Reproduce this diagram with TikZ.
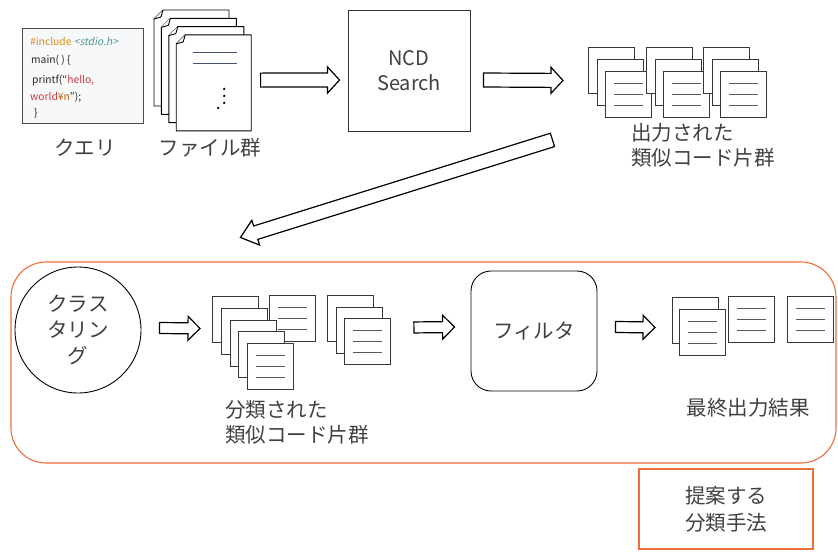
\documentclass[tikz,border=0pt]{standalone}
\usepackage{fontspec}
\setmainfont{Noto Sans CJK JP}
\newfontfamily\codeslant[FakeSlant=0.2]{Noto Sans CJK JP}
\usepackage{xcolor}
\usepackage{tikz}
\usetikzlibrary{calc,positioning}
\definecolor{framecol}{RGB}{240,108,56}
\definecolor{inkcol}{RGB}{64,64,64}
\definecolor{pagecol}{RGB}{55,55,55}
\definecolor{codebg}{RGB}{246,248,250}
\definecolor{kwcol}{RGB}{214,140,30}
\definecolor{hdrcol}{RGB}{80,150,150}
\definecolor{strcol}{RGB}{205,60,60}
\definecolor{esccol}{RGB}{190,100,20}
\definecolor{rulecol}{RGB}{68,84,106}

% hollow block arrow: tail, tip, shaft half width, head half width, head length
\newcommand{\hollowarrow}[5]{%
  \coordinate (ha-s) at (#1);
  \coordinate (ha-e) at (#2);
  \coordinate (ha-n) at ($(ha-e)!#5!(ha-s)$);
  \draw[blockarrow] ($(ha-s)!#3!90:(ha-e)$) -- ($(ha-n)!#3!90:(ha-e)$) -- ($(ha-n)!#4!90:(ha-e)$)
    -- (ha-e) -- ($(ha-n)!#4!-90:(ha-e)$) -- ($(ha-n)!#3!-90:(ha-e)$) -- ($(ha-s)!#3!-90:(ha-e)$) -- cycle;
}
% three text rules on a snippet page
\newcommand{\snipruled}[1]{%
  \foreach \dy in {-11,0,11} {\draw[snipline] ($(#1.west)+(9,\dy)$) -- ($(#1.east)+(-9,\dy)$);}
}

\begin{document}
\begin{tikzpicture}[x=1pt,y=-1pt,
    jp/.style={font=\fontsize{20.5}{25}\selectfont, text=inkcol, inner sep=0pt},
    code/.style={font=\fontsize{10.3}{12}\selectfont, text=black!85, inner sep=0pt, anchor=base west},
    snip/.style={draw=pagecol, fill=white, line width=0.9pt, minimum width=46pt, minimum height=46pt, inner sep=0pt, anchor=north west},
    snipline/.style={draw=black!65, line width=0.9pt},
    paper/.style={draw=black, fill=white, line width=0.9pt, line join=round},
    blockarrow/.style={draw=black, fill=white, line width=1.2pt, line join=miter}]
    \useasboundingbox (0,0) rectangle (838,552);

    % Query (source code)
    \node[draw=black!70, fill=codebg, line width=0.9pt, minimum width=121pt, minimum height=95pt, anchor=north west] (query) at (22,28) {};
    \node[code] (q1) at ($(query.north west)+(8,17)$) {\color{kwcol}\#include \codeslant\color{hdrcol}<stdio.h>};
    \node[code] (q2) at ($(query.north west)+(9,35)$) {main( ) \{};
    \node[code] (q3) at ($(query.north west)+(10,55)$) {printf(“{\color{strcol}hello,}};
    \node[code] (q4) at ($(query.north west)+(8,72)$) {{\color{strcol}world}{\color{esccol}¥n}”);};
    \node[code] (q5) at ($(query.north west)+(12,88)$) {\}};
    \node[jp] (querylab) at (85,148) {クエリ};

    % File set
    \foreach \k in {0,...,3} {
      \pgfmathsetmacro{\pgx}{154+7.4*\k}
      \pgfmathsetmacro{\pgy}{10+8.3*\k}
      \draw[paper] (\pgx,\pgy+9) -- (\pgx+9,\pgy) -- (\pgx+75,\pgy) -- (\pgx+75,\pgy+96) -- (\pgx,\pgy+96) -- cycle;
      \draw[paper] (\pgx+9,\pgy) -- (\pgx+7,\pgy+7) -- (\pgx,\pgy+9);
    }
    \node[inner sep=0pt, minimum width=75pt, minimum height=96pt, anchor=north west] (files) at (176.2,34.9) {};
    \draw[rulecol, line width=0.8pt] ($(files.north west)+(17,17)$) -- +(44,0);
    \draw[rulecol, line width=0.8pt] ($(files.north west)+(17,28)$) -- +(44,0);
    \foreach \dx/\dy in {48/54,48/61,48/68,42/73} {\fill[black] ($(files.north west)+(\dx,\dy)$) circle (1.3pt);}
    \node[jp] (fileslab) at (210,148) {ファイル群};

    % NCD search
    \node[draw=black!80, line width=0.9pt, minimum width=122pt, minimum height=121pt, align=center,
      font=\fontsize{20}{25}\selectfont, text=inkcol] (ncd) at (409,70.5) {NCD\\Search};

    % Output snippets
    \foreach \g/\gx in {1/588,2/646,3/703} {
      \foreach \k in {0,1,2} {
        \node[snip] (o\g-\k) at (\gx+8.5*\k,47+12*\k) {};
      }
      \snipruled{o\g-2}
    }
    \node[jp, anchor=west, align=left] (outlab) at (631,145.5) {出力された\\類似コード片群};

    % Proposed part
    \node[draw=framecol, line width=1.1pt, rounded corners=35pt, minimum width=825pt, minimum height=201pt] (frame) at (423.5,362.5) {};
    \node[draw=black, line width=0.9pt, circle, minimum size=126pt, align=center, font=\fontsize{20.5}{26}\selectfont, text=inkcol] (cluster) at (78,330) {クラス\\タリン\\グ};

    % Clustered snippets
    \node[snip] (c1x) at (269,295) {};
    \snipruled{c1x}
    \foreach \k in {0,...,4} {\node[snip] (c1-\k) at (212+8.75*\k,296+11.75*\k) {};}
    \snipruled{c1-4}
    \foreach \k in {0,1,2} {\node[snip] (c2-\k) at (327+8.5*\k,295+11.5*\k) {};}
    \snipruled{c2-2}
    \node[jp, anchor=west, align=left] (clustlab) at (225,422.5) {分類された\\類似コード片群};

    % Filter
    \node[draw=black, line width=0.9pt, rounded corners=20pt, minimum width=126pt, minimum height=120pt,
      font=\fontsize{20.5}{25}\selectfont, text=inkcol] (filter) at (534,331) {フィルタ};

    % Final output
    \node[snip] (f1-0) at (672,297) {};
    \node[snip] (f1-1) at (679,309) {};
    \snipruled{f1-1}
    \node[snip] (f2) at (728,296) {};
    \snipruled{f2}
    \node[snip] (f3) at (787,296) {};
    \snipruled{f3}
    \node[jp] (finallab) at (748,408) {最終出力結果};

    \node[draw=framecol, line width=1.1pt, minimum width=174pt, minimum height=80pt, align=center,
      font=\fontsize{20.5}{27}\selectfont, text=inkcol] (method) at (726,509) {提案する\\分類手法};

    % Arrows
    \hollowarrow{$(files.east)+(9,-3)$}{$(ncd.west)+(-8,9.5)$}{7pt}{13pt}{12pt}
    \hollowarrow{$(ncd.east)+(13,9.5)$}{$(o1-0.west)+(-25,10)$}{7pt}{13pt}{12pt}
    \hollowarrow{$(o1-2.south)+(-76,22)$}{$(frame.north west)+(230,-24)$}{7pt}{13pt}{16pt}
    \hollowarrow{$(cluster.east)+(18,-2)$}{$(c1-0.west)+(-12,9)$}{5.5pt}{12pt}{12pt}
    \hollowarrow{$(c2-2.east)+(23,-14)$}{$(filter.west)+(-16,-4)$}{5.5pt}{12pt}{12pt}
    \hollowarrow{$(filter.east)+(18,-4)$}{$(f1-0.west)+(-17,7)$}{5.5pt}{12pt}{12pt}
\end{tikzpicture}
\end{document}
